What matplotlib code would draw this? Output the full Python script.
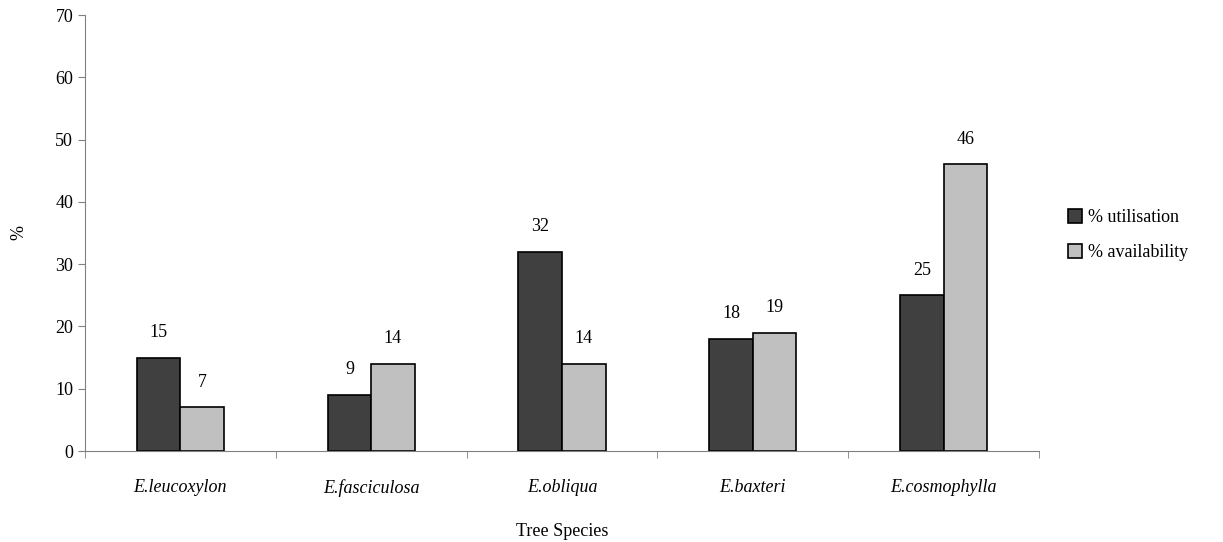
import matplotlib.pyplot as plt
import numpy as np

species = ["E.leucoxylon", "E.fasciculosa", "E.obliqua", "E.baxteri", "E.cosmophylla"]
utilisation = [15, 9, 32, 18, 25]
availability = [7, 14, 14, 19, 46]

plt.rcParams['font.family'] = ['Liberation Serif', 'DejaVu Serif']

fig = plt.figure(figsize=(12.23, 5.42), dpi=100)
ax = fig.add_axes([85 / 1223, 91 / 542, 954 / 1223, 436 / 542])

x = np.arange(len(species))
w = 0.228
b1 = ax.bar(x - w / 2, utilisation, w, color='#404040', edgecolor='black', linewidth=1.2, label='% utilisation')
b2 = ax.bar(x + w / 2, availability, w, color='#c0c0c0', edgecolor='black', linewidth=1.2, label='% availability')

for bars, vals in ((b1, utilisation), (b2, availability)):
    for r, v in zip(bars, vals):
        ax.annotate(str(v), (r.get_x() + r.get_width() / 2, v), xytext=(0, 12),
                    textcoords='offset points', ha='center', va='bottom', fontsize=13)

ax.set_xlim(-0.5, len(species) - 0.5)
ax.set_ylim(0, 70)
ax.set_yticks(range(0, 71, 10))
ax.set_xticks(x)
ax.set_xticklabels(species, fontstyle='italic', fontsize=13)
ax.set_xticks(np.arange(-0.5, len(species)), minor=True)
ax.tick_params(axis='x', which='major', length=0, pad=20)
ax.tick_params(axis='x', which='minor', length=5, color='#808080', direction='out')
ax.tick_params(axis='y', length=5, color='#808080', labelsize=13)

for s in ['top', 'right']:
    ax.spines[s].set_visible(False)
for s in ['left', 'bottom']:
    ax.spines[s].set_color('#808080')

ax.set_xlabel('Tree Species', fontsize=13, labelpad=19)
ax.set_ylabel('%', fontsize=13, labelpad=20)

ax.legend(loc='center left', bbox_to_anchor=(1.013, 0.495), frameon=False, fontsize=13,
          handlelength=0.8, handleheight=0.8, handletextpad=0.3, labelspacing=1.0)

fig.savefig('out.png')
